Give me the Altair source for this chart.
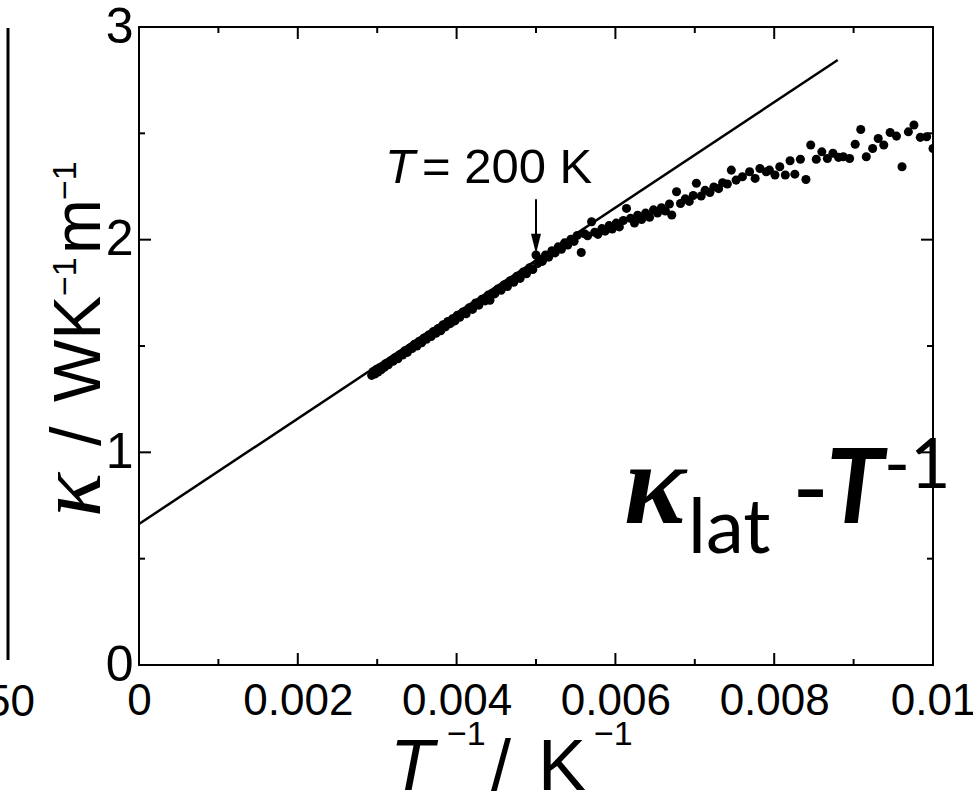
import altair as alt
import pandas as pd

# ---- data ----
inv_T = [
    0.00293, 0.00295, 0.00297, 0.00299, 0.00301, 0.00303, 0.00305, 0.00307, 0.00309, 0.00311,
    0.00314, 0.00317, 0.00320, 0.00323, 0.00326, 0.00329, 0.00332, 0.00335, 0.00338, 0.00341,
    0.00344, 0.00347, 0.00350, 0.00353, 0.00356, 0.00359, 0.00362, 0.00365, 0.00368, 0.00371,
    0.00374, 0.00377, 0.00380, 0.00383, 0.00386, 0.00389, 0.00392, 0.00395, 0.00398, 0.00401,
    0.00404, 0.00408, 0.00412, 0.00416, 0.00420, 0.00424, 0.00428, 0.00432, 0.00436, 0.00440,
    0.00442, 0.00444, 0.00448, 0.00452, 0.00456, 0.00460, 0.00464, 0.00468, 0.00472, 0.00476,
    0.00480, 0.00484, 0.00488, 0.00492, 0.00496, 0.00500, 0.00502,
    0.00504, 0.00508, 0.00512, 0.00516, 0.00520, 0.00524, 0.00528, 0.00532, 0.00536, 0.00540,
    0.00544, 0.00548, 0.00552, 0.00557, 0.00561, 0.00565, 0.00570, 0.00574, 0.00578, 0.00583,
    0.00587, 0.00592, 0.00596, 0.00601, 0.00605, 0.00610, 0.00614, 0.00619, 0.00624, 0.00628,
    0.00633, 0.00638, 0.00643, 0.00648, 0.00653, 0.00658, 0.00663, 0.00668, 0.00671, 0.00677,
    0.00682, 0.00688, 0.00693, 0.00698, 0.00702, 0.00708, 0.00713, 0.00719, 0.00724, 0.00730,
    0.00735, 0.00741,
    0.00746, 0.00752, 0.00760, 0.00769, 0.00776, 0.00782, 0.00790, 0.00794, 0.00801, 0.00807,
    0.00814, 0.00820, 0.00826, 0.00833, 0.00840, 0.00846, 0.00853, 0.00860, 0.00867, 0.00874,
    0.00881, 0.00887, 0.00895, 0.00902, 0.00909, 0.00916, 0.00924, 0.00931, 0.00938, 0.00946,
    0.00954, 0.00961, 0.00969, 0.00976, 0.00984, 0.00992, 0.01000,
]
kappa = [
    1.362, 1.380, 1.368, 1.390, 1.378, 1.398, 1.388, 1.405, 1.400, 1.418,
    1.412, 1.430, 1.428, 1.446, 1.440, 1.460, 1.458, 1.478, 1.470, 1.490,
    1.488, 1.508, 1.500, 1.522, 1.515, 1.538, 1.532, 1.552, 1.545, 1.568,
    1.560, 1.582, 1.572, 1.600, 1.590, 1.615, 1.605, 1.628, 1.618, 1.645,
    1.635, 1.660, 1.652, 1.680, 1.672, 1.702, 1.692, 1.720, 1.712, 1.740,
    1.715, 1.745, 1.745, 1.768, 1.762, 1.788, 1.780, 1.808, 1.800, 1.828,
    1.818, 1.848, 1.840, 1.868, 1.860, 1.928, 1.888,
    1.908, 1.898, 1.928, 1.918, 1.948, 1.938, 1.966, 1.955, 1.985, 1.975,
    2.002, 1.992, 2.020, 1.940, 2.028, 2.018, 2.084, 2.035, 2.025, 2.052,
    2.040, 2.066, 2.050, 2.078, 2.060, 2.090, 2.147, 2.100, 2.078, 2.115,
    2.095, 2.125, 2.105, 2.140, 2.125, 2.150, 2.135, 2.168, 2.116, 2.225,
    2.170, 2.192, 2.180, 2.208, 2.265, 2.205, 2.232, 2.222, 2.248, 2.240,
    2.268, 2.262,
    2.327, 2.280, 2.296, 2.319, 2.288, 2.335, 2.319, 2.327, 2.304, 2.343,
    2.304, 2.371, 2.308, 2.378, 2.283, 2.445, 2.378, 2.413, 2.382, 2.406,
    2.387, 2.390, 2.382, 2.449, 2.518, 2.390, 2.429, 2.476, 2.445, 2.504,
    2.487, 2.343, 2.507, 2.539, 2.481, 2.484, 2.429,
]
fit_x = [0.0, 0.0088]
fit_y = [0.663, 2.845]

x_major = [0.0, 0.002, 0.004, 0.006, 0.008, 0.01]
x_minor = [0.001, 0.003, 0.005, 0.007, 0.009]
y_major = [0, 1, 2, 3]
y_minor = [0.5, 1.5, 2.5]

arrow_x = [0.005]
arrow_top = [2.19]
arrow_tip = [1.99]

# ---- layout constants ----
L, T, W, H = 139, 27, 794, 638
SANS = "Liberation Sans"

xenc = alt.X("x:Q", scale=alt.Scale(domain=[0, 0.01], nice=False, zero=False),
             axis=alt.Axis(values=x_major, format=".3~f", ticks=False, domain=False, grid=False,
                           labelFont=SANS, labelFontSize=44, labelColor="black",
                           labelPadding=14, labelFlush=False, labelOverlap=False, title=None))
yenc = alt.Y("y:Q", scale=alt.Scale(domain=[0, 3], nice=False, zero=False),
             axis=alt.Axis(values=y_major, format="d", ticks=False, domain=False, grid=False,
                           labelFont=SANS, labelFontSize=50, labelColor="black",
                           labelPadding=6, labelFlush=False, labelOverlap=False, title=None))

pts = pd.DataFrame({"x": inv_T, "y": kappa})
fit = pd.DataFrame({"x": fit_x, "y": fit_y})

points = alt.Chart(pts).mark_circle(size=82, color="black", opacity=1, clip=True).encode(x=xenc, y=yenc)
line = alt.Chart(fit).mark_line(color="black", strokeWidth=2.5).encode(x=xenc, y=yenc)


def xticks(vals, length, top):
    d = pd.DataFrame({"x": vals})
    if top:
        return alt.Chart(d).mark_rule(color="black", strokeWidth=2).encode(
            x=xenc, y=alt.value(0), y2=alt.value(length))
    return alt.Chart(d).mark_rule(color="black", strokeWidth=2).encode(
        x=xenc, y=alt.value(H), y2=alt.value(H - length))


def yticks(vals, length, right):
    d = pd.DataFrame({"y": vals})
    if right:
        return alt.Chart(d).mark_rule(color="black", strokeWidth=2).encode(
            y=yenc, x=alt.value(W), x2=alt.value(W - length))
    return alt.Chart(d).mark_rule(color="black", strokeWidth=2).encode(
        y=yenc, x=alt.value(0), x2=alt.value(length))


def txt(s, xa, ya, size, font=SANS, style="normal", weight="normal", angle=0,
        align="left", baseline="alphabetic"):
    return alt.Chart(pd.DataFrame({"t": [s]})).mark_text(
        font=font, fontSize=size, fontStyle=style, fontWeight=weight, angle=angle,
        align=align, baseline=baseline, color="black").encode(
        x=alt.value(xa - L), y=alt.value(ya - T), text="t:N")


arr = pd.DataFrame({"x": arrow_x, "y": arrow_top, "y2": arrow_tip})
arrow_shaft = alt.Chart(arr).mark_rule(color="black", strokeWidth=2).encode(x=xenc, y=yenc, y2="y2:Q")
arrow_head = alt.Chart(pd.DataFrame({"x": arrow_x, "y": arrow_tip})).mark_point(
    shape="M -0.5 -1 L 0.5 -1 L 0 1 Z", filled=True, color="black", opacity=1, size=400,
    yOffset=2).encode(x=xenc, y=yenc)

left_panel = alt.Chart(pd.DataFrame({"a": [0]})).mark_rule(color="black", strokeWidth=3).encode(
    x=alt.value(8 - L), y=alt.value(1), y2=alt.value(633))

texts = [
    # x title
    txt("T", 390, 790, 72, style="italic"),
    txt("\u22121", 447, 745, 34),
    txt("/", 491, 790, 72),
    txt("K", 538, 790, 72),
    txt("\u22121", 594, 745, 34),
    # y title (rotated)
    txt("\u03ba", 100, 517, 92, font="Liberation Serif", style="italic", angle=270),
    txt("/", 100, 446, 70, angle=270),
    txt("WK", 100, 402, 66, angle=270),
    txt("\u22121", 76, 296, 34, angle=270),
    txt("m", 100, 254, 66, angle=270),
    txt("\u22121", 76, 200, 34, angle=270),
    # annotation
    txt("T", 385, 183, 49, style="italic"),
    txt("= 200 K", 422, 183, 49),
    # big label
    txt("\u03ba", 624, 523, 116, font="Liberation Serif", style="italic", weight="bold"),
    txt("lat", 688, 553, 76, font="Lato"),
    txt("-", 792, 523, 100, font="Lato"),
    txt("T", 826, 523, 104, font="Lato", style="italic", weight="bold"),
    txt("-1", 884, 488, 70, font="Lato"),
    # neighbouring panel label
    txt("50", 35, 716, 44, align="right"),
]

chart = alt.layer(
    line, points,
    xticks(x_major, 12, False), xticks(x_minor, 6, False),
    xticks(x_major, 12, True), xticks(x_minor, 6, True),
    yticks(y_major, 12, False), yticks(y_minor, 6, False),
    yticks(y_major, 12, True), yticks(y_minor, 6, True),
    arrow_shaft, arrow_head, left_panel, *texts,
).properties(
    width=W, height=H,
    autosize=alt.AutoSizeParams(type="none"),
    padding={"left": L, "top": T, "right": 973 - L - W, "bottom": 798 - T - H},
    background="white",
).configure_view(stroke="black", strokeWidth=2)

chart.save("out.html", embed_options={"renderer": "svg", "actions": False})
